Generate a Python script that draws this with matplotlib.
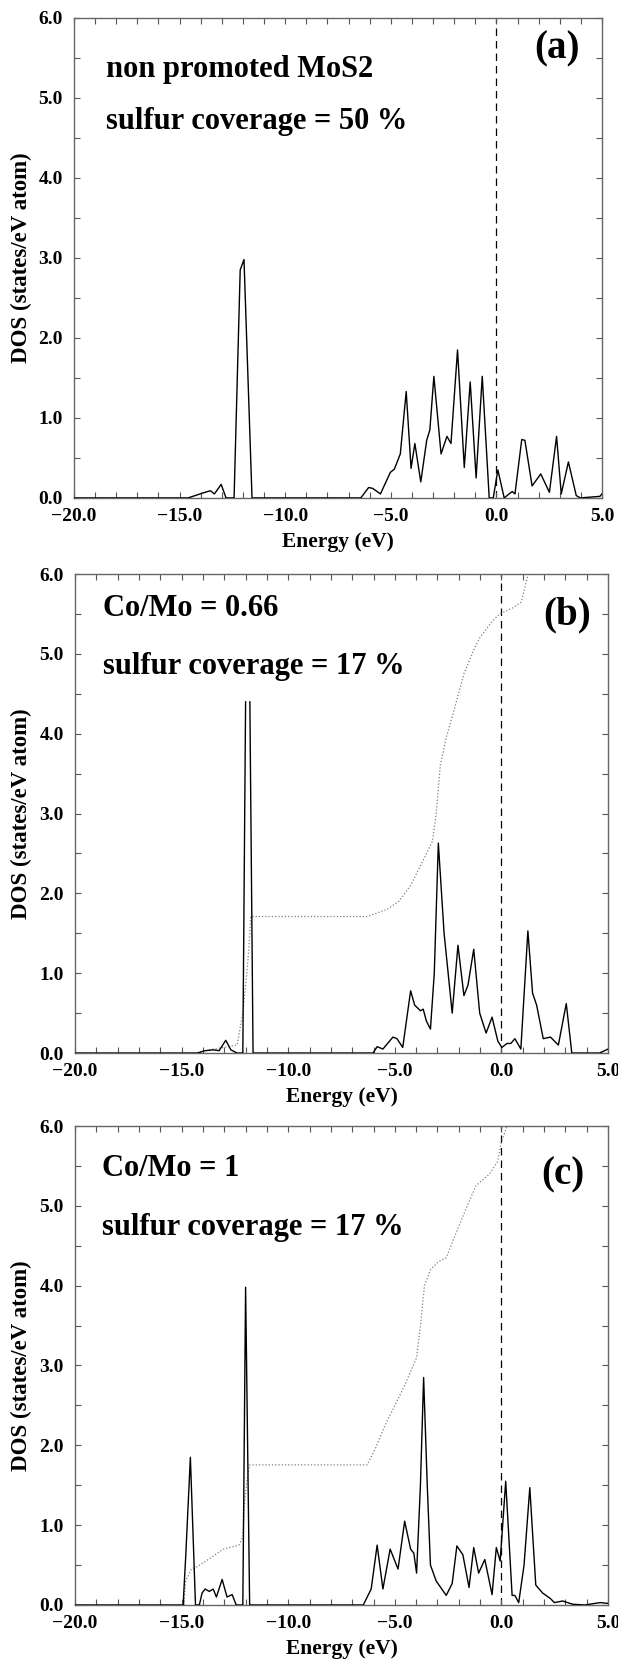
import numpy as np
import matplotlib
matplotlib.use("Agg")
from matplotlib import pyplot as plt
from matplotlib.ticker import MultipleLocator

plt.rcParams['font.family'] = ['Liberation Serif', 'DejaVu Serif']
plt.rcParams['font.weight'] = 'bold'

# (a) MoS2 sans promoteur
e_a = [-20.0, -14.6, -13.8, -13.54, -13.35, -13.03, -12.8, -12.42, -12.13, -11.95, -11.57,
       -6.42, -6.05, -5.86, -5.49, -5.02, -4.83, -4.55, -4.27, -4.04, -3.86, -3.58, -3.30,
       -3.15, -2.96, -2.62, -2.34, -2.15, -1.84, -1.52, -1.24, -0.96, -0.67, -0.34, -0.15,
       0.07, 0.37, 0.60, 0.75, 0.88, 1.2, 1.35, 1.69, 2.1, 2.51, 2.85, 3.07, 3.41, 3.78,
       3.97, 4.9, 5.0]
d_a = [0.0, 0.0, 0.07, 0.09, 0.05, 0.17, 0.0, 0.0, 2.85, 2.98, 0.0,
       0.0, 0.13, 0.12, 0.05, 0.32, 0.36, 0.55, 1.33, 0.37, 0.68, 0.2, 0.72,
       0.85, 1.52, 0.55, 0.77, 0.68, 1.85, 0.38, 1.45, 0.25, 1.52, 0.0, 0.0,
       0.35, 0.0, 0.05, 0.08, 0.05, 0.73, 0.72, 0.15, 0.3, 0.07, 0.77, 0.05, 0.45, 0.03,
       0.0, 0.02, 0.05]

# (b) Co/Mo = 0.66
e_b = [-20.0, -14.26, -13.9, -13.52, -13.24, -12.93, -12.69, -12.4, -12.13, -12.0, np.nan,
       -11.8, -11.65, -6.02, -5.83, -5.56, -5.09, -4.9, -4.63, -4.26, -4.07, -3.8, -3.67,
       -3.52, -3.33, -3.15, -2.96, -2.69, -2.31, -2.04, -1.76, -1.57, -1.3, -1.02, -0.72,
       -0.44, -0.17, 0.02, 0.26, 0.44, 0.63, 0.91, 1.24, 1.46, 1.65, 1.96, 2.3, 2.67,
       3.04, 3.3, 4.6, 5.0]
d_b = [0.0, 0.0, 0.03, 0.04, 0.03, 0.16, 0.04, 0.0, 0.0, 4.4, np.nan,
       4.4, 0.0, 0.0, 0.08, 0.05, 0.2, 0.18, 0.07, 0.78, 0.6, 0.53, 0.55,
       0.4, 0.3, 1.0, 2.63, 1.5, 0.5, 1.35, 0.72, 0.85, 1.3, 0.5, 0.25,
       0.45, 0.15, 0.07, 0.12, 0.12, 0.18, 0.05, 1.53, 0.75, 0.6, 0.18, 0.2, 0.1,
       0.62, 0.0, 0.0, 0.05]
ie_b = [-14.3, -13.5, -12.8, -12.4, -12.13, -11.94, -11.85, -11.76, -6.3, -5.37, -4.81,
        -4.26, -3.7, -3.24, -3.06, -2.87, -2.59, -2.22, -1.76, -1.3, -1.02, -0.46, -0.09,
        0.56, 0.93, 1.25]
id_b = [0.0, 0.05, 0.08, 0.1, 0.5, 1.0, 1.3, 1.71, 1.71, 1.8, 1.9,
        2.1, 2.4, 2.65, 3.0, 3.6, 3.95, 4.3, 4.75, 5.05, 5.2, 5.4, 5.5,
        5.58, 5.65, 6.0]

# (c) Co/Mo = 1
e_c = [-20.0, -14.91, -14.91, -14.81, -14.59, -14.35, -14.17, -14.04, -13.9, -13.7, -13.52,
       -13.37, -13.1, -12.87, -12.63, -12.44, -12.13, -12.0, -11.81, -6.48, -6.11, -5.83,
       -5.56, -5.22, -4.85, -4.54, -4.26, -4.11, -3.98, -3.8, -3.65, -3.48, -3.33, -3.06,
       -2.59, -2.31, -2.09, -1.81, -1.52, -1.3, -1.07, -0.78, -0.44, -0.24, -0.06, 0.2,
       0.5, 0.63, 0.81, 1.06, 1.33, 1.61, 1.93, 2.3, 2.48, 2.87, 3.33, 3.9, 4.63, 5.0]
d_c = [0.0, 0.0, 0.1, 0.6, 1.85, 0.0, 0.0, 0.15, 0.2, 0.17, 0.2,
       0.1, 0.32, 0.1, 0.13, 0.0, 0.0, 3.98, 0.0, 0.0, 0.2, 0.75,
       0.2, 0.7, 0.45, 1.05, 0.7, 0.65, 0.4, 1.5, 2.85, 1.5, 0.5, 0.3,
       0.12, 0.27, 0.74, 0.63, 0.22, 0.72, 0.4, 0.57, 0.13, 0.72, 0.55, 1.55,
       0.12, 0.12, 0.03, 0.5, 1.47, 0.25, 0.15, 0.08, 0.03, 0.05, 0.01, 0.0, 0.03, 0.02]
ie_c = [-14.9, -14.81, -14.54, -14.26, -13.7, -13.05, -12.31, -12.13, -12.04, -11.94,
        -11.81, -6.3, -5.93, -5.46, -5.0, -4.54, -3.98, -3.8, -3.61, -3.33, -2.96, -2.59,
        -2.22, -1.76, -1.2, -0.56, -0.19, 0.0, 0.26]
id_c = [0.0, 0.3, 0.45, 0.48, 0.58, 0.7, 0.75, 0.85, 1.3, 1.55,
        1.755, 1.755, 1.95, 2.25, 2.5, 2.75, 3.1, 3.5, 4.0, 4.2, 4.3, 4.35,
        4.6, 4.9, 5.25, 5.4, 5.55, 5.8, 6.0]

panneaux = [
    dict(pos=[0.1197, 0.7004, 0.8544, 0.2888], e=e_a, d=d_a, ie=None, idos=None,
         t1="non promoted MoS2", t2="sulfur coverage = 50 %", lab="(a)",
         y1=0.892, y2=0.785, ylab=0.935, x1=0.06, xlab=0.914),
    dict(pos=[0.1214, 0.3664, 0.8625, 0.2882], e=e_b, d=d_b, ie=ie_b, idos=id_b,
         t1="Co/Mo = 0.66", t2="sulfur coverage = 17 %", lab="(b)",
         y1=0.929, y2=0.806, ylab=0.914, x1=0.053, xlab=0.924),
    dict(pos=[0.1214, 0.0343, 0.8625, 0.2882], e=e_c, d=d_c, ie=ie_c, idos=id_c,
         t1="Co/Mo = 1", t2="sulfur coverage = 17 %", lab="(c)",
         y1=0.912, y2=0.789, ylab=0.897, x1=0.05, xlab=0.915),
]

fig = plt.figure(figsize=(6.18, 16.62), dpi=100)

for p in panneaux:
    ax = fig.add_axes(p['pos'])
    ax.axvline(0.0, color='black', lw=0.9, ls=(0, (6, 4)), zorder=1)
    if p['ie'] is not None:
        ax.plot(p['ie'], p['idos'], color='#808080', lw=0.9, ls=(0, (1, 1.6)), zorder=2)
    ax.plot(p['e'], p['d'], color='black', lw=1.0, zorder=3)

    ax.set_xlim(-20, 5)
    ax.set_ylim(0, 6)
    ax.xaxis.set_major_locator(MultipleLocator(5))
    ax.xaxis.set_minor_locator(MultipleLocator(1))
    ax.yaxis.set_major_locator(MultipleLocator(1))
    ax.yaxis.set_minor_locator(MultipleLocator(0.5))
    ax.xaxis.set_major_formatter(lambda v, pos: f"{v:.1f}".replace('-', '\u2212'))
    ax.yaxis.set_major_formatter(lambda v, pos: f"{v:.1f}")
    ax.tick_params(which='both', direction='in', top=True, right=True,
                   length=4, width=0.8, color='#555555', labelsize=14)
    ax.tick_params(axis='x', pad=7)
    ax.tick_params(axis='y', pad=8)
    for s in ax.spines.values():
        s.set_color('#666666')
        s.set_linewidth(1.0)

    ax.set_xlabel("Energy (eV)", fontsize=15.5, fontweight='bold', labelpad=5)
    ax.set_ylabel("DOS (states/eV atom)", fontsize=16.5, fontweight='bold')
    ax.yaxis.set_label_coords(-0.08, 0.5)

    ax.text(p['x1'], p['y1'], p['t1'], transform=ax.transAxes, fontsize=22,
            fontweight='bold', va='center', ha='left')
    ax.text(p['x1'], p['y2'], p['t2'], transform=ax.transAxes, fontsize=22,
            fontweight='bold', va='center', ha='left')
    ax.text(p['xlab'], p['ylab'], p['lab'], transform=ax.transAxes, fontsize=28,
            fontweight='bold', va='center', ha='center')

fig.savefig("out.png", dpi=100)
